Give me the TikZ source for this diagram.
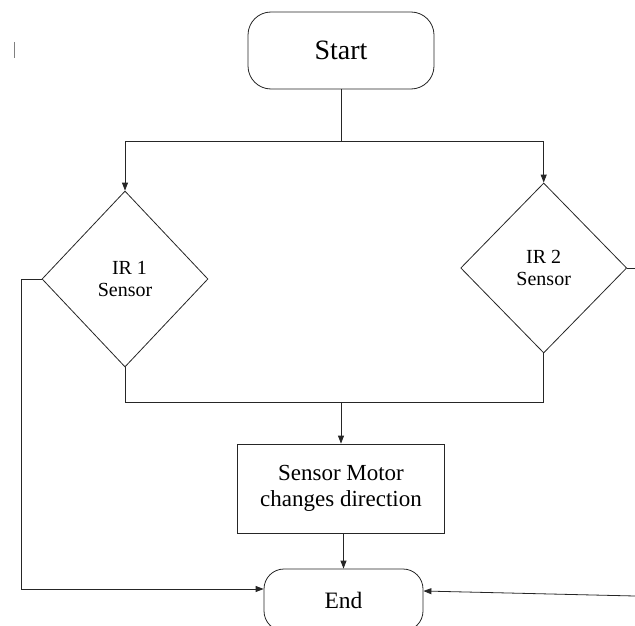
\documentclass[tikz,border=0pt]{standalone}
\usepackage{fontspec}
\setmainfont{Liberation Serif}
\usetikzlibrary{shapes.geometric,arrows.meta}
\begin{document}
\begin{tikzpicture}[x=1pt,y=-1pt,
  line/.style={draw=black!85,line width=0.8pt},
  arr/.style={line,-{Triangle[length=8pt,width=6pt]}},
  terminal/.style={line,rectangle,rounded corners=23pt,inner sep=0pt},
  decision/.style={line,diamond,inner sep=0pt,align=center,font=\fontsize{20}{22.5}\selectfont},
  process/.style={line,rectangle,inner sep=0pt,align=center,font=\fontsize{23}{25.7}\selectfont}]
\useasboundingbox (0,0) rectangle (635,626);
\node[terminal,minimum width=186pt,minimum height=77pt,font=\fontsize{28}{32}\selectfont] (start) at (341,50.5) {Start};
\node[decision,minimum width=166pt,minimum height=176pt] (d1) at (125,279) {\kern9pt IR 1\\Sensor};
\node[decision,minimum width=166pt,minimum height=170pt] (d2) at (543.7,268) {IR 2\\Sensor};
\node[process,minimum width=207pt,minimum height=89pt] (proc) at (341,488.5) {Sensor Motor\\changes direction};
\node[terminal,rounded corners=20pt,minimum width=159pt,minimum height=62pt,font=\fontsize{23.5}{26}\selectfont] (end) at (343.5,600) {End};
\coordinate (split) at (341,141);
\coordinate (merge) at (341,402);
\coordinate (redge) at (635,268);
\coordinate (rin) at (635,596);
\draw[line] (start.south) -- (split);
\draw[arr] (split) -| (d1.north);
\draw[arr] (split) -| (d2.north);
\draw[line] (d1.south) |- (merge);
\draw[line] (d2.south) |- (merge);
\draw[arr] (merge) -- (proc.north);
\draw[arr] (proc.south -| end.north) -- (end.north);
\draw[arr] (d1.west) -- ++(-20,0) |- ([yshift=11pt]end.west);
\draw[line] (d2.east) -- (redge);
\draw[arr] (rin) -- ([yshift=9pt]end.east);
\draw[gray,line width=1pt] (14,42) -- (14,58);
\end{tikzpicture}
\end{document}
